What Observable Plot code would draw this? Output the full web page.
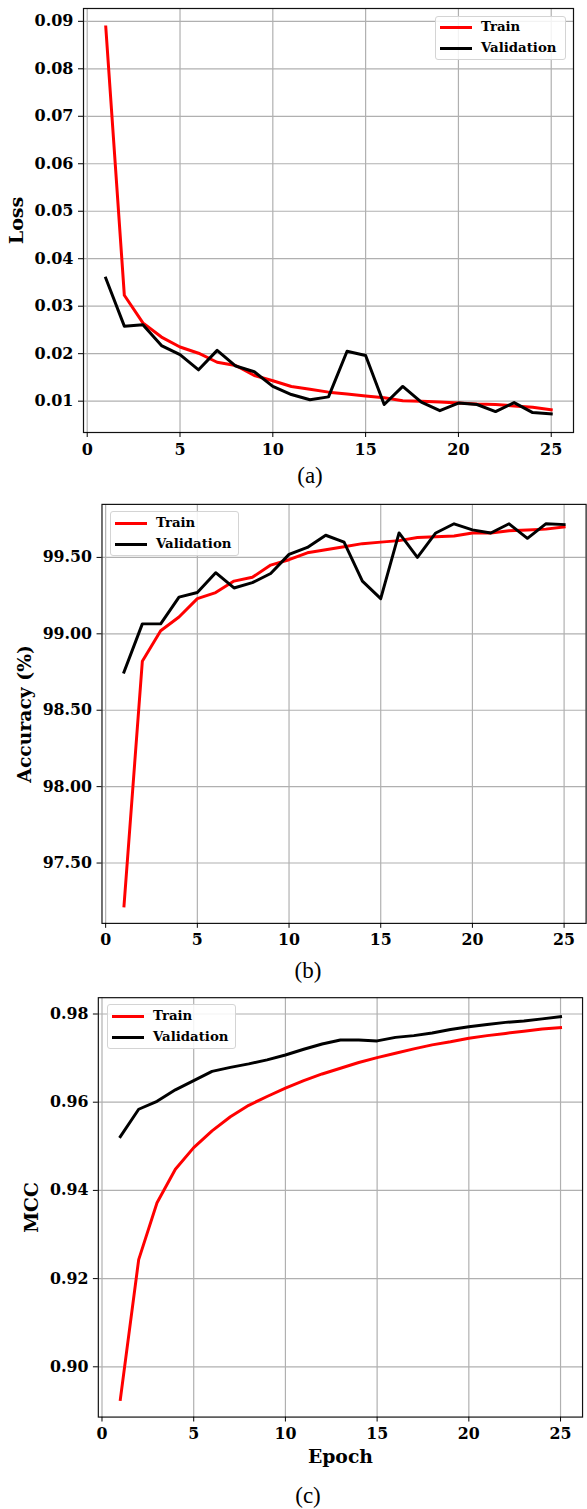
<!DOCTYPE html>
<html><head><meta charset="utf-8">
<script src="https://cdn.jsdelivr.net/npm/d3@7"></script>
<script src="https://cdn.jsdelivr.net/npm/@observablehq/plot@0.6"></script>
<style>
html,body{margin:0;padding:0;background:#fff;}
#root{position:relative;width:587px;height:1509px;overflow:hidden;background:#fff;}
.panel{position:absolute;left:0;}
.caption{position:absolute;font-family:"Liberation Serif","Times New Roman",serif;font-size:23px;line-height:23px;transform:translateX(-50%);color:#000;}
.legend{position:absolute;border:1px solid #d4d4d4;border-radius:3px;background:rgba(255,255,255,0.85);font-family:"DejaVu Serif",serif;font-weight:bold;font-size:13.3px;color:#000;box-sizing:border-box;}
.legend .sw{position:absolute;height:3px;width:32px;}
.legend .lb{position:absolute;line-height:14px;white-space:nowrap;}
</style></head>
<body><div id="root"></div>
<script>
const epochs = [1,2,3,4,5,6,7,8,9,10,11,12,13,14,15,16,17,18,19,20,21,22,23,24,25];
const xTicks = [0,5,10,15,20,25];
const seriesNames = ["Train","Validation"];
const seriesColors = ["#ff0000","#000000"];

// (a) Loss
const lossTrain = [0.0888,0.0323,0.0265,0.0235,0.0214,0.0201,0.0182,0.0175,0.0154,0.0143,0.0131,0.0125,0.0119,0.0115,0.0111,0.0107,0.0101,0.0100,0.0098,0.0096,0.0094,0.0093,0.0090,0.0087,0.0082];
const lossVal   = [0.0359,0.0258,0.0261,0.0217,0.0198,0.0166,0.0207,0.0174,0.0162,0.0131,0.0114,0.0103,0.0109,0.0205,0.0196,0.0093,0.0131,0.0098,0.0080,0.0096,0.0093,0.0078,0.0097,0.0076,0.0073];
const lossTicks = [0.01,0.02,0.03,0.04,0.05,0.06,0.07,0.08,0.09];

// (b) Accuracy
const accTrain = [97.22,98.82,99.02,99.11,99.23,99.27,99.345,99.37,99.45,99.485,99.53,99.55,99.57,99.59,99.60,99.61,99.63,99.635,99.64,99.66,99.66,99.675,99.68,99.685,99.70];
const accVal   = [98.75,99.065,99.065,99.24,99.27,99.40,99.30,99.335,99.395,99.52,99.565,99.645,99.60,99.345,99.23,99.66,99.50,99.66,99.72,99.68,99.66,99.72,99.625,99.72,99.715];
const accTicks = [97.5,98.0,98.5,99.0,99.5];

// (c) MCC
const mccTrain = [0.8926,0.9243,0.9372,0.9448,0.9497,0.9535,0.9567,0.9593,0.9613,0.9632,0.9649,0.9664,0.9677,0.9690,0.9701,0.9711,0.9721,0.9730,0.9737,0.9745,0.9751,0.9756,0.9761,0.9766,0.9769];
const mccVal   = [0.9522,0.9584,0.9602,0.9628,0.9649,0.9670,0.9679,0.9687,0.9696,0.9707,0.9720,0.9732,0.9741,0.9741,0.9739,0.9747,0.9751,0.9757,0.9765,0.9771,0.9776,0.9781,0.9784,0.9789,0.9794];
const mccTicks = [0.90,0.92,0.94,0.96,0.98];

const root = document.getElementById("root");

function table(train, val) {
  const rows = [];
  epochs.forEach((e, i) => rows.push({epoch: e, value: train[i], series: "Train"}));
  epochs.forEach((e, i) => rows.push({epoch: e, value: val[i], series: "Validation"}));
  return rows;
}

function panel(cfg) {
  const data = table(cfg.train, cfg.val);
  const marks = [
    Plot.gridX(xTicks, {stroke: "#b0b0b0", strokeOpacity: 1, strokeWidth: 1.2}),
    Plot.gridY(cfg.yTicks, {stroke: "#b0b0b0", strokeOpacity: 1, strokeWidth: 1.2}),
    Plot.line(data, {x: "epoch", y: "value", z: "series", stroke: "series", strokeWidth: 3, strokeLinejoin: "round", strokeLinecap: "square"}),
    Plot.frame({stroke: "#111", strokeWidth: 1.2}),
    Plot.axisX({ticks: xTicks, tickSize: 5, tickPadding: 6, label: null, fontSize: 16}),
    Plot.axisY({ticks: cfg.yTicks, tickSize: 5, tickPadding: 5, tickFormat: d3.format(".2f"), label: null, fontSize: 16}),
    Plot.text([cfg.yLabel], {frameAnchor: "left", rotate: -90, dx: cfg.yLabelDx, textAnchor: "middle", lineAnchor: "middle", fontSize: 19, fontWeight: "bold"})
  ];
  if (cfg.xLabel) {
    marks.push(Plot.text([cfg.xLabel], {frameAnchor: "bottom", dy: cfg.xLabelDy, textAnchor: "middle", lineAnchor: "middle", fontSize: 19, fontWeight: "bold"}));
  }
  const chart = Plot.plot({
    width: cfg.width, height: cfg.height,
    marginLeft: cfg.ml, marginRight: cfg.mr, marginTop: cfg.mt, marginBottom: cfg.mb,
    x: {domain: [-0.2, 26.2]},
    y: {domain: cfg.yDomain},
    color: {domain: seriesNames, range: seriesColors},
    style: {fontFamily: "'DejaVu Serif', serif", fontWeight: "bold", fontSize: "16px", color: "#000", background: "transparent", overflow: "visible"},
    marks
  });
  const wrap = document.createElement("div");
  wrap.className = "panel";
  wrap.style.top = cfg.top + "px";
  wrap.appendChild(chart);
  root.appendChild(wrap);

  // legend
  const lg = document.createElement("div");
  lg.className = "legend";
  Object.assign(lg.style, {left: cfg.legend.x + "px", top: cfg.legend.y + "px", width: cfg.legend.w + "px", height: cfg.legend.h + "px"});
  seriesNames.forEach((name, i) => {
    const sw = document.createElement("div");
    sw.className = "sw";
    sw.style.background = seriesColors[i];
    sw.style.left = "4px";
    sw.style.top = (cfg.legend.row0 + i * 21 - 1.5) + "px";
    const lb = document.createElement("div");
    lb.className = "lb";
    lb.textContent = name;
    lb.style.left = "45px";
    lb.style.top = (cfg.legend.row0 + i * 21 - 7.5) + "px";
    lg.appendChild(sw); lg.appendChild(lb);
  });
  root.appendChild(lg);

  const cap = document.createElement("div");
  cap.className = "caption";
  cap.textContent = cfg.caption;
  cap.style.left = cfg.capX + "px";
  cap.style.top = (cfg.capY - 12) + "px";
  root.appendChild(cap);
}

panel({
  train: lossTrain, val: lossVal, yTicks: lossTicks, yDomain: [0.0034, 0.0927],
  yLabel: "Loss", yLabelDx: -67,
  top: 0, width: 587, height: 470, ml: 83, mr: 14, mt: 8, mb: 38,
  legend: {x: 435, y: 16, w: 131, h: 44, row0: 10},
  caption: "(a)", capX: 310, capY: 476
});
panel({
  train: accTrain, val: accVal, yTicks: accTicks, yDomain: [97.105, 99.847],
  yLabel: "Accuracy (%)", yLabelDx: -78,
  top: 495, width: 594, height: 468, ml: 102.7, mr: 1.4, mt: 9, mb: 35,
  legend: {x: 110, y: 511, w: 129, h: 45, row0: 11},
  caption: "(b)", capX: 308, capY: 971
});
panel({
  train: mccTrain, val: mccVal, yTicks: mccTicks, yDomain: [0.8886, 0.9837],
  yLabel: "MCC", yLabelDx: -67, xLabel: "Epoch", xLabelDy: 40,
  top: 988, width: 594, height: 489, ml: 99, mr: 5, mt: 9.3, mb: 55.3,
  legend: {x: 107, y: 1004, w: 129, h: 45, row0: 11.5},
  caption: "(c)", capX: 308, capY: 1496
});
</script>
</body></html>
